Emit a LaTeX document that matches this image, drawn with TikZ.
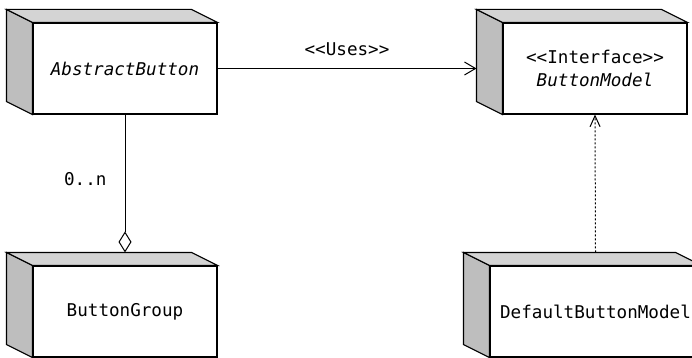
\documentclass[tikz,border=0pt]{standalone}
\usepackage{fontspec}
\setmonofont{DejaVu Sans Mono}
\usetikzlibrary{arrows.meta}
\definecolor{sidegray}{HTML}{BEBEBE}
\definecolor{topgray}{HTML}{D4D4D4}
% left and top faces of a uml node box
\newcommand\boxsides[1]{%
  \filldraw[fill=sidegray] (#1.north west) -- ++(-26,-13) -- ([xshift=-26pt,yshift=13pt]#1.south west) -- (#1.south west) -- cycle;
  \filldraw[fill=topgray] (#1.north west) -- ++(-26,-13) -- ([xshift=-26pt,yshift=13pt]#1.north east) -- (#1.north east) -- cycle;
}
\begin{document}
\begin{tikzpicture}[x=1pt,y=-1pt,line width=1.1pt,
  umlbox/.style={draw,fill=white,minimum width=184pt,minimum height=91pt,inner sep=0pt,align=center,
    font=\ttfamily\fontsize{17.6}{23.5}\selectfont},
  lbl/.style={inner sep=0pt,font=\ttfamily\fontsize{17.6}{21}\selectfont},
  uses/.style={line width=1pt,-{Straight Barb[length=11pt,width=13pt]}},
  aggr/.style={line width=1pt,-{Diamond[open,length=21pt,width=13pt]}},
  real/.style={line width=1pt,dash pattern=on 2pt off 2pt,-{Straight Barb[length=11pt,width=10pt]}}]
\useasboundingbox (0,0) rectangle (692,358);
\clip (0,0) rectangle (692,358);
\node[umlbox] (abtn) at (125,68.5) {\itshape AbstractButton};
\node[umlbox] (bmodel) at (595,68.5) {<<Interface>>\\\itshape ButtonModel};
\node[umlbox] (bgroup) at (125,311.5) {ButtonGroup};
\node[umlbox,minimum width=211pt] (dbmodel) at (595.5,311.5) {DefaultButtonModel};
\boxsides{abtn} \boxsides{bmodel} \boxsides{bgroup} \boxsides{dbmodel}
\draw[uses] (abtn.east) -- ([xshift=-26pt]bmodel.west) node[midway,above=12pt,lbl] {<<Uses>>};
\draw[aggr] (abtn.south) -- ([yshift=13pt]bgroup.north) node[pos=0.47,left=18pt,lbl] {0..n};
\draw[real] ([yshift=13pt]dbmodel.north) -- (bmodel.south);
\end{tikzpicture}
\end{document}
